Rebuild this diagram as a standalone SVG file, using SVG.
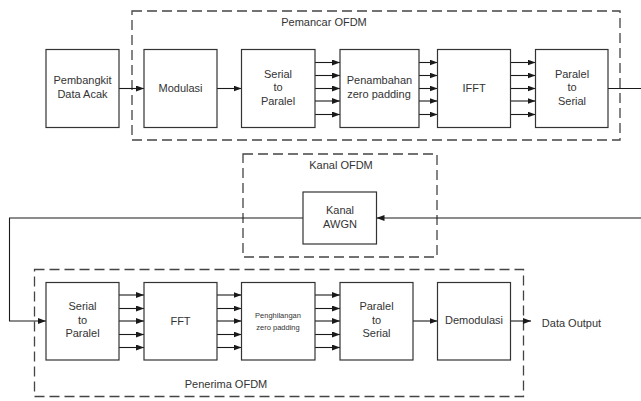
<svg xmlns="http://www.w3.org/2000/svg" width="641" height="401" viewBox="0 0 641 401">
<defs>
<marker id="ah" viewBox="0 0 8 6" refX="8" refY="3" markerWidth="8" markerHeight="6" markerUnits="userSpaceOnUse" orient="auto">
<path d="M0,0 L8,3 L0,6 Z" fill="#1a1a1a"/>
</marker>
</defs>
<style>
.box{fill:#fff;stroke:#333;stroke-width:1.2}
.grp{fill:none;stroke:#444;stroke-width:1.3;stroke-dasharray:10 5}
.ln{fill:none;stroke:#1a1a1a;stroke-width:1.1}
.ar{marker-end:url(#ah)}
text{font-family:"Liberation Sans",Arial,sans-serif;font-size:11px;fill:#333;text-anchor:middle}
.sm{font-size:7.5px}
</style>
<rect width="641" height="401" fill="#fff"/>

<g id="groups">
<g id="pemancar"><rect class="grp" x="132" y="11" width="488" height="129"/><text x="324" y="26">Pemancar OFDM</text></g>
<g id="kanal"><rect class="grp" x="243" y="154" width="194" height="103"/><text x="341" y="169">Kanal OFDM</text></g>
<g id="penerima"><rect class="grp" x="34.5" y="269.5" width="489" height="127"/><text x="226" y="388">Penerima OFDM</text></g>
</g>

<g id="connectors">
<line class="ln ar" x1="119" y1="88.5" x2="144" y2="88.5"/>
<line class="ln ar" x1="217" y1="88.5" x2="241.5" y2="88.5"/>
<g id="c1">
<line class="ln ar" x1="315" y1="62.5" x2="340" y2="62.5"/>
<line class="ln ar" x1="315" y1="75.5" x2="340" y2="75.5"/>
<line class="ln ar" x1="315" y1="88.5" x2="340" y2="88.5"/>
<line class="ln ar" x1="315" y1="101" x2="340" y2="101"/>
<line class="ln ar" x1="315" y1="114.5" x2="340" y2="114.5"/>
</g>
<g id="c2">
<line class="ln ar" x1="419" y1="62.5" x2="437.5" y2="62.5"/>
<line class="ln ar" x1="419" y1="75.5" x2="437.5" y2="75.5"/>
<line class="ln ar" x1="419" y1="88.5" x2="437.5" y2="88.5"/>
<line class="ln ar" x1="411" y1="101" x2="437.5" y2="101"/>
<line class="ln ar" x1="419" y1="114.5" x2="437.5" y2="114.5"/>
</g>
<g id="c3">
<line class="ln ar" x1="511" y1="62.5" x2="535.5" y2="62.5"/>
<line class="ln ar" x1="511" y1="75.5" x2="535.5" y2="75.5"/>
<line class="ln ar" x1="511" y1="88.5" x2="535.5" y2="88.5"/>
<line class="ln ar" x1="511" y1="101" x2="535.5" y2="101"/>
<line class="ln ar" x1="511" y1="114.5" x2="535.5" y2="114.5"/>
</g>
<line class="ln" x1="608" y1="88.5" x2="641" y2="88.5"/>
<line class="ln ar" x1="641" y1="218" x2="376.5" y2="218"/>
<polyline class="ln ar" points="303,218 9.5,218 9.5,321 46,321"/>
<g id="c4">
<line class="ln ar" x1="119" y1="295" x2="144" y2="295"/>
<line class="ln ar" x1="119" y1="308.5" x2="144" y2="308.5"/>
<line class="ln ar" x1="119" y1="321" x2="144" y2="321"/>
<line class="ln ar" x1="119" y1="334.5" x2="144" y2="334.5"/>
<line class="ln ar" x1="119" y1="347.5" x2="144" y2="347.5"/>
</g>
<g id="c5">
<line class="ln ar" x1="217" y1="295" x2="241.5" y2="295"/>
<line class="ln ar" x1="217" y1="308.5" x2="241.5" y2="308.5"/>
<line class="ln ar" x1="217" y1="321" x2="241.5" y2="321"/>
<line class="ln ar" x1="217" y1="334.5" x2="241.5" y2="334.5"/>
<line class="ln ar" x1="217" y1="347.5" x2="241.5" y2="347.5"/>
</g>
<g id="c6">
<line class="ln ar" x1="315" y1="295" x2="340" y2="295"/>
<line class="ln ar" x1="315" y1="308.5" x2="340" y2="308.5"/>
<line class="ln ar" x1="315" y1="321" x2="340" y2="321"/>
<line class="ln ar" x1="315" y1="334.5" x2="340" y2="334.5"/>
<line class="ln ar" x1="315" y1="347.5" x2="340" y2="347.5"/>
</g>
<line class="ln ar" x1="413" y1="321" x2="437.5" y2="321"/>
<line class="ln ar" x1="511" y1="321" x2="531" y2="321"/>
</g>

<g id="pembangkit"><rect class="box" x="46" y="49.5" width="73" height="78"/><text x="82.5" y="84">Pembangkit</text><text x="82.5" y="97.5">Data Acak</text></g>
<g id="modulasi"><rect class="box" x="144" y="49.5" width="73" height="78"/><text x="180.5" y="92">Modulasi</text></g>
<g id="s2p-tx"><rect class="box" x="241.5" y="49.5" width="73.5" height="78"/><text x="278" y="77.5">Serial</text><text x="278" y="91">to</text><text x="278" y="104.5">Paralel</text></g>
<g id="penambahan"><rect class="box" x="340" y="49.5" width="79" height="78"/><text x="379.5" y="84">Penambahan</text><text x="379" y="97.5">zero padding</text></g>
<g id="ifft"><rect class="box" x="437.5" y="49.5" width="73" height="78"/><text x="474" y="92">IFFT</text></g>
<g id="p2s-tx"><rect class="box" x="535.5" y="49.5" width="72.5" height="78"/><text x="572" y="77.5">Paralel</text><text x="572" y="91">to</text><text x="572" y="104.5">Serial</text></g>

<g id="awgn"><rect class="box" x="303" y="192" width="73.5" height="52"/><text x="340" y="214">Kanal</text><text x="340" y="227.5">AWGN</text></g>

<g id="s2p-rx"><rect class="box" x="46" y="282.5" width="73" height="77.5"/><text x="82.5" y="310">Serial</text><text x="82.5" y="323.5">to</text><text x="82.5" y="337">Paralel</text></g>
<g id="fft"><rect class="box" x="144" y="282.5" width="73" height="77.5"/><text x="180.5" y="325">FFT</text></g>
<g id="penghilangan"><rect class="box" x="241.5" y="282.5" width="73.5" height="77.5"/><text class="sm" x="278" y="317.5">Penghilangan</text><text class="sm" x="278" y="329.5">zero padding</text></g>
<g id="p2s-rx"><rect class="box" x="340" y="282.5" width="73" height="77.5"/><text x="376.5" y="310">Paralel</text><text x="376.5" y="323.5">to</text><text x="376.5" y="337">Serial</text></g>
<g id="demodulasi"><rect class="box" x="437.5" y="282.5" width="73" height="77.5"/><text x="474" y="324">Demodulasi</text></g>
<g id="output"><text x="571.5" y="326.5">Data Output</text></g>
</svg>
